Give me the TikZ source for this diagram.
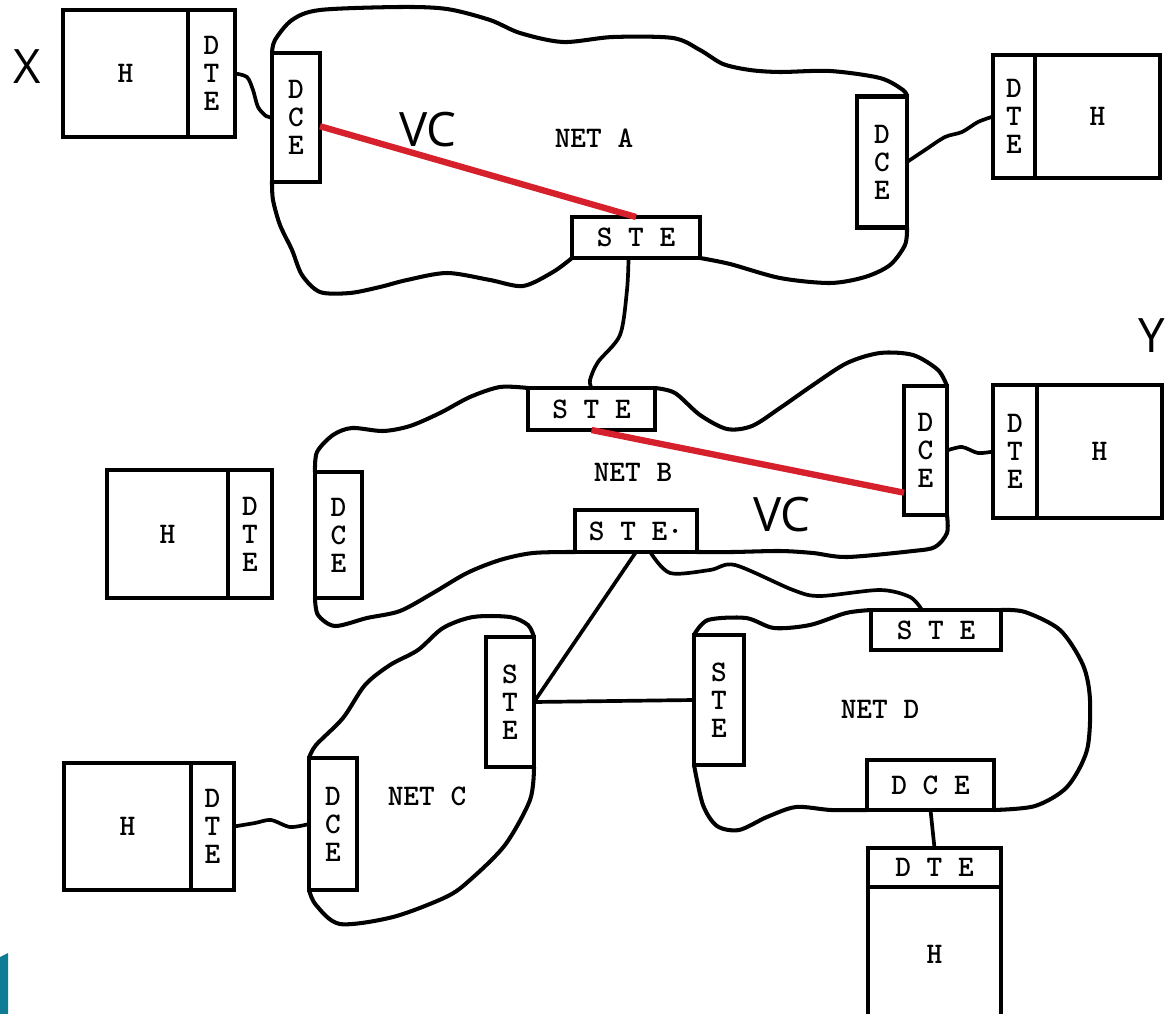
\documentclass[tikz,border=0pt]{standalone}
\usepackage{fontspec}
\newfontfamily\labelfont{Open Sans}
\usepackage{tikz}
\usetikzlibrary{positioning}
\definecolor{vcred}{RGB}{214,32,44}
\definecolor{logoteal}{RGB}{14,124,148}
\newcommand{\tw}{\ttfamily\bfseries\fontsize{17}{16}\selectfont}

\begin{document}
\begin{tikzpicture}[
  x=0.02cm, y=-0.02cm,
  unit/.style={draw, line width=2.8pt, outer sep=0pt, inner sep=0pt, align=center, font=\tw},
  host/.style={unit, minimum width=2.5cm},
  net/.style={line width=2.3pt, line join=round},
  link/.style={line width=2.1pt},
  vc/.style={line width=3.6pt, draw=vcred},
  big/.style={font=\labelfont\fontsize{27}{30}\selectfont},
  netname/.style={font=\tw}
]
\useasboundingbox (0,0) rectangle (1167,1014);

% hosts and their DTEs
\node[host, minimum height=2.54cm] (hX) at (125.5,73.5) {H};
\node[unit, right=0pt of hX, minimum width=0.94cm, minimum height=2.54cm] (dteX) {D\\T\\E};
\node[unit, minimum width=0.84cm, minimum height=2.46cm] (dteA2) at (1014,116.5) {D\\T\\E};
\node[host, right=0pt of dteA2, minimum height=2.46cm] (hA2) {H};
\node[host, minimum width=2.42cm, minimum height=2.56cm] (hB) at (167.5,534) {H};
\node[unit, right=0pt of hB, minimum width=0.88cm, minimum height=2.56cm] (dteB) {D\\T\\E};
\node[unit, minimum width=0.88cm, minimum height=2.66cm] (dteY) at (1015,451.5) {D\\T\\E};
\node[host, right=0pt of dteY, minimum height=2.66cm] (hY) {H};
\node[host, minimum width=2.54cm, minimum height=2.54cm] (hC) at (127.5,826.5) {H};
\node[unit, right=0pt of hC, minimum width=0.86cm, minimum height=2.54cm] (dteC) {D\\T\\E};
\node[unit, minimum width=2.66cm, minimum height=0.78cm] (dteD) at (934.5,867.5) {D T E};
\node[host, below=0pt of dteD, minimum width=2.66cm, minimum height=2.7cm] (hD) {H};

% network units
\node[unit, minimum width=0.96cm, minimum height=2.58cm] (dceA1) at (296,117.5) {D\\C\\E};
\node[unit, minimum width=1.0cm, minimum height=2.62cm] (dceA2) at (882,162) {D\\C\\E};
\node[unit, minimum width=2.56cm, minimum height=0.82cm] (steA) at (636,237.5) {S T E};
\node[unit, minimum width=2.54cm, minimum height=0.84cm] (steB1) at (591.5,409) {S T E};
\node[unit, minimum width=0.94cm, minimum height=2.52cm] (dceB1) at (338.5,535) {D\\C\\E};
\node[unit, minimum width=0.86cm, minimum height=2.58cm] (dceB2) at (925.5,450.5) {D\\C\\E};
\node[unit, minimum width=2.44cm, minimum height=0.84cm] (steB2) at (636,531) {S T E·};
\node[unit, minimum width=0.96cm, minimum height=2.6cm] (steC) at (510,702) {S\\T\\E};
\node[unit, minimum width=0.96cm, minimum height=2.64cm] (dceC) at (333,824) {D\\C\\E};
\node[unit, minimum width=1.0cm, minimum height=2.6cm] (steD2) at (719,700) {S\\T\\E};
\node[unit, minimum width=2.6cm, minimum height=0.8cm] (steD1) at (936,630) {S T E};
\node[unit, minimum width=2.54cm, minimum height=1.0cm] (dceD) at (930.5,785) {D C E};

\node[netname] (netA) at (594,138) {NET A};
\node[netname] (netB) at (633,472) {NET B};
\node[netname] (netC) at (427,796) {NET C};
\node[netname] (netD) at (880,709) {NET D};

% net outlines
\draw[net] plot[smooth] coordinates {(dceA1.north west) (275,40) (292,20) (320,10) (400,7) (447,9) (490,20) (520,33) (563,42) (613,37) (673,38) (700,50) (723,64) (750,70) (780,72) (830,71) (880,78) (903,90) (dceA2.north east)};
\draw[net] plot[smooth] coordinates {(dceA2.south east) (905,245) (890,265) (865,277) (830,283) (780,278) (730,264) (steA.south east)};
\draw[net] plot[smooth] coordinates {(steA.south west) (553,272) (523,286) (490,280) (447,273) (407,280) (380,287) (350,293) (320,292) (302,275) (292,250) (280,225) (273,200) (dceA1.south west)};

\draw[net] plot[smooth] coordinates {(dceB1.north west) (317,452) (333,435) (352,428) (383,431) (410,426) (440,413) (470,397) (500,387) (steB1.north west)};
\draw[net] plot[smooth] coordinates {(steB1.north east) (675,393) (700,415) (727,429) (752,426) (780,408) (813,385) (847,363) (880,353) (913,355) (938,370) (dceB2.north east)};
\draw[net] plot[smooth] coordinates {(dceB2.south east) (947,533) (935,547) (913,551) (847,557) (813,553) (780,551) (733,552) (steB2.south east)};
\draw[net] plot[smooth] coordinates {(steB2.south west) (533,553) (500,560) (467,573) (433,593) (400,611) (367,618) (335,626) (318,615) (dceB1.south west)};

\draw[net] plot[smooth] coordinates {(dceC.north west) (316,745) (343,718) (365,685) (390,665) (418,650) (443,628) (473,617) (510,617) (528,625) (steC.north east)};
\draw[net] plot[smooth] coordinates {(steC.south east) (530,800) (505,845) (470,880) (446,897) (393,917) (340,924) (316,905) (dceC.south west)};

\draw[net] plot[smooth] coordinates {(steD2.north west) (708,620) (746,618) (774,628) (810,625) (846,613) (steD1.north west)};
\draw[net] plot[smooth] coordinates {(steD1.north east) (1025,612) (1060,630) (1083,665) (1090,700) (1087,750) (1067,787) (1035,806) (dceD.south east)};
\draw[net] plot[smooth] coordinates {(dceD.south west) (831,810) (796,807) (767,817) (739,830) (717,826) (703,805) (steD2.south west)};

% links
\draw[link] plot[smooth] coordinates {(dteX.east) (247,77) (253,90) (258,107) (266,116) (dceA1.west)};
\draw[link] plot[smooth] coordinates {(dceA2.east) (925,150) (945,137) (962,132) (978,122) (dteA2.west)};
\draw[link] plot[smooth] coordinates {(steA.-110) (627,290) (620,335) (598,362) (590,380) (steB1.north)};
\draw[link] plot[smooth] coordinates {(dceB2.east) (962,447) (978,453) (dteY.west)};
\draw[link] plot[smooth] coordinates {(dteC.east) (255,823) (271,820) (290,827) (dceC.west)};
\draw[link] plot[smooth] coordinates {(steB2.-56) (670,573) (710,570) (735,565) (793,590) (820,596) (880,590) (910,597) (steD1.125)};
\draw[link] (steB2.south) -- (steC.east);
\draw[link] (steC.east) -- (steD2.west);
\draw[link] (dceD.south) -- (dteD.north);

% virtual circuit
\draw[vc] (dceA1.-20) -- (steA.north);
\draw[vc] (steB1.south) -- (dceB2.243);
\node[big] (vcA) at (428,130) {VC};
\node[big] (vcB) at (782,515) {VC};
\node[big] (nameX) at (27,67) {X};
\node[big] (nameY) at (1152,336) {Y};

\fill[logoteal] (0,957) -- (8,953) -- (8,1014) -- (0,1014) -- cycle;
\end{tikzpicture}
\end{document}
